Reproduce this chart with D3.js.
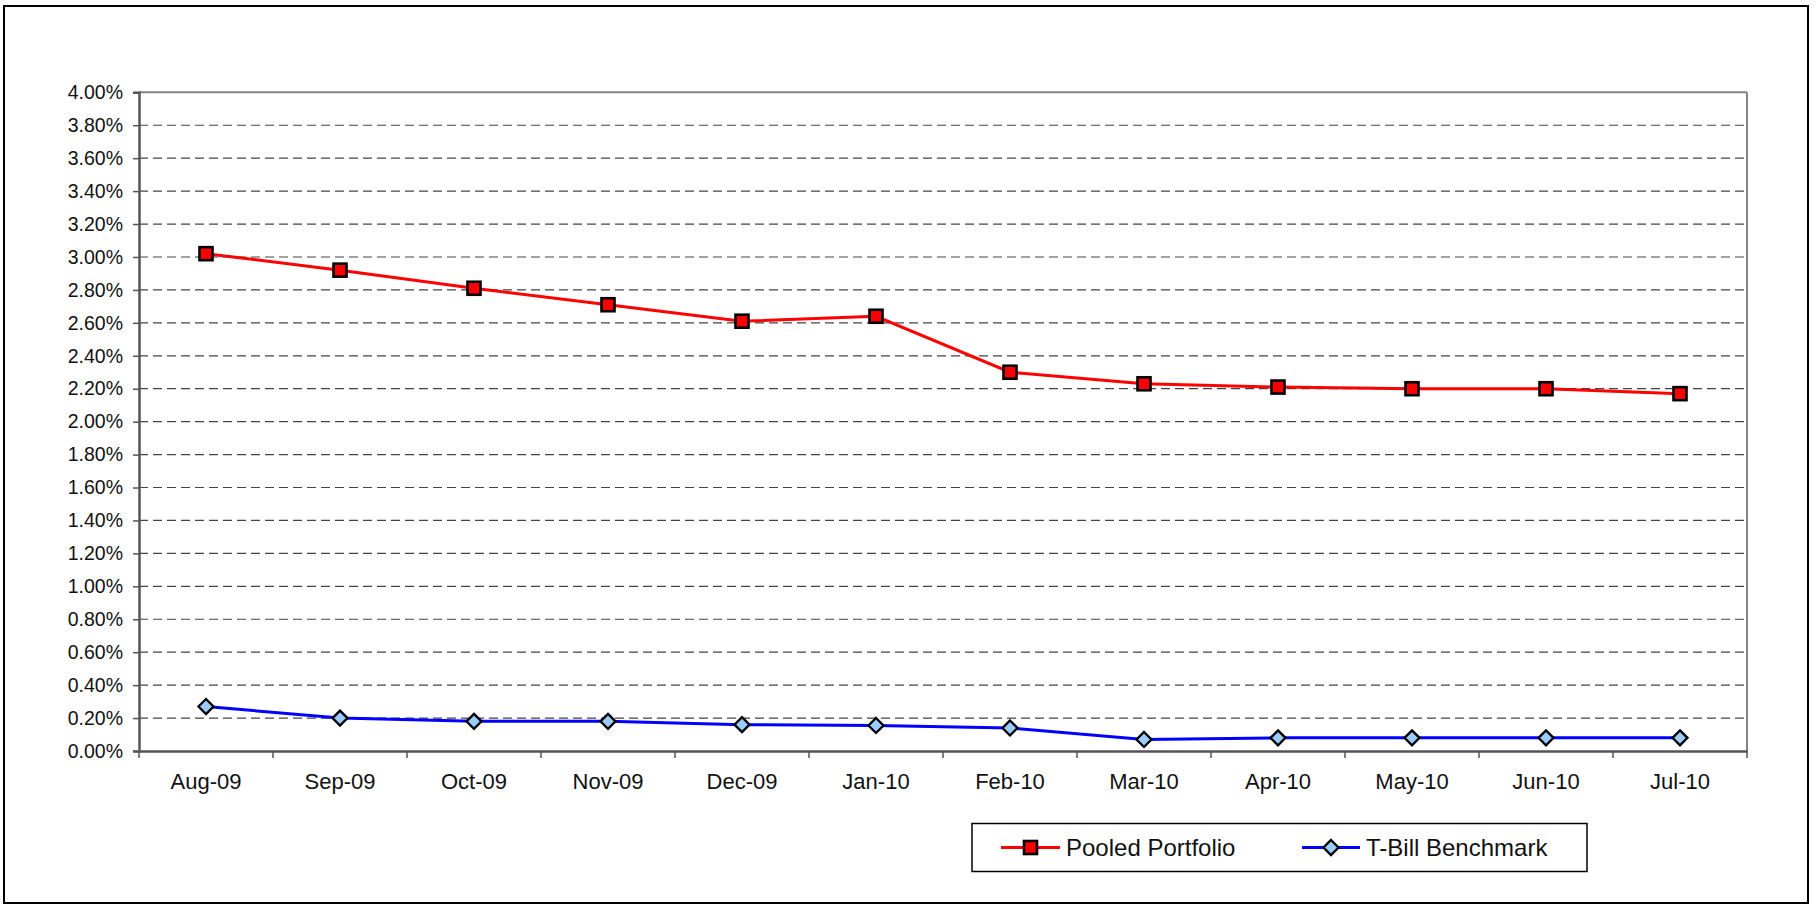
<!DOCTYPE html>
<html>
<head>
<meta charset="utf-8">
<script src="https://cdn.jsdelivr.net/npm/d3@7"></script>
<style>
  html, body { margin: 0; padding: 0; background: #fff; }
  svg { display: block; font-family: "Liberation Sans", Arial, sans-serif; }
</style>
</head>
<body>
<svg id="chart" width="1815" height="905"></svg>
<script>
const months = ["Aug-09","Sep-09","Oct-09","Nov-09","Dec-09","Jan-10","Feb-10","Mar-10","Apr-10","May-10","Jun-10","Jul-10"];
const pooledPortfolio = [3.02, 2.92, 2.81, 2.71, 2.61, 2.64, 2.30, 2.23, 2.21, 2.20, 2.20, 2.17];
const tBillBenchmark = [0.27, 0.20, 0.18, 0.18, 0.16, 0.155, 0.14, 0.07, 0.08, 0.08, 0.08, 0.08];
const yTicks = [0,0.2,0.4,0.6,0.8,1.0,1.2,1.4,1.6,1.8,2.0,2.2,2.4,2.6,2.8,3.0,3.2,3.4,3.6,3.8,4.0];
const seriesNames = ["Pooled Portfolio", "T-Bill Benchmark"];

const svg = d3.select("#chart");
const plot = {left: 139, right: 1747, top: 92.3, bottom: 751};

// outer frame
svg.append("rect").attr("x", 4).attr("y", 6).attr("width", 1804).attr("height", 897)
  .attr("fill", "#fff").attr("stroke", "#000").attr("stroke-width", 2);

const x = d3.scaleBand().domain(months).range([plot.left, plot.right]).padding(0);
const y = d3.scaleLinear().domain([0, 4]).range([plot.bottom, plot.top]);

// gridlines
svg.append("g").selectAll("line").data(yTicks.filter(d => d > 0 && d < 4)).join("line")
  .attr("x1", plot.left).attr("x2", plot.right)
  .attr("y1", d => y(d)).attr("y2", d => y(d))
  .attr("stroke", "#444").attr("stroke-width", 1.2).attr("stroke-dasharray", "9,5");

// plot top and right border
svg.append("line").attr("x1", plot.left).attr("x2", plot.right).attr("y1", plot.top).attr("y2", plot.top)
  .attr("stroke", "#858585").attr("stroke-width", 2);
svg.append("line").attr("x1", plot.right).attr("x2", plot.right).attr("y1", plot.top).attr("y2", plot.bottom)
  .attr("stroke", "#858585").attr("stroke-width", 2);

// y axis
const yAxis = d3.axisLeft(y).tickValues(yTicks).tickSize(6).tickPadding(10)
  .tickFormat(d => d3.format(".2f")(d) + "%");
const gy = svg.append("g").attr("transform", `translate(${plot.left},0)`).call(yAxis);
gy.select(".domain").attr("stroke", "#555").attr("stroke-width", 2.5);
gy.selectAll(".tick line").attr("stroke", "#555").attr("stroke-width", 1.5);
gy.selectAll(".tick text").attr("font-size", "19.5px").attr("fill", "#111")
  .attr("font-family", "Liberation Sans, Arial, sans-serif");

// x axis
const xAxis = d3.axisBottom(x).tickSize(0).tickPadding(22);
const gx = svg.append("g").attr("transform", `translate(0,${plot.bottom})`).call(xAxis);
gx.select(".domain").attr("stroke", "#555").attr("stroke-width", 2.5);
gx.selectAll(".tick text").attr("font-size", "22px").attr("fill", "#111")
  .attr("font-family", "Liberation Sans, Arial, sans-serif");
// category boundary ticks
const bounds = months.map(m => x(m)).concat([x(months[months.length - 1]) + x.bandwidth()]);
svg.append("g").selectAll("line").data(bounds).join("line")
  .attr("x1", d => d).attr("x2", d => d).attr("y1", plot.bottom).attr("y2", plot.bottom + 7)
  .attr("stroke", "#555").attr("stroke-width", 1.5);

const cx = m => x(m) + x.bandwidth() / 2;
const line = d3.line().x(d => cx(d.m)).y(d => y(d.v));

const pooledData = months.map((m, i) => ({m, v: pooledPortfolio[i]}));
const tbillData = months.map((m, i) => ({m, v: tBillBenchmark[i]}));

// lines
svg.append("path").datum(pooledData).attr("d", line).attr("fill", "none")
  .attr("stroke", "#FF0000").attr("stroke-width", 3);
svg.append("path").datum(tbillData).attr("d", line).attr("fill", "none")
  .attr("stroke", "#0000FF").attr("stroke-width", 3);

const sq = 13;
function square(g, px, py) {
  g.append("rect").attr("x", px - sq / 2).attr("y", py - sq / 2).attr("width", sq).attr("height", sq)
    .attr("fill", "#FF0000").attr("stroke", "#000").attr("stroke-width", 2.6);
}
const dm = 7.5;
function diamond(g, px, py) {
  g.append("path").attr("d", `M${px},${py - dm}L${px + dm},${py}L${px},${py + dm}L${px - dm},${py}Z`)
    .attr("fill", "#99CCFF").attr("stroke", "#000").attr("stroke-width", 2.3);
}
const mg = svg.append("g");
pooledData.forEach(d => square(mg, cx(d.m), y(d.v)));
tbillData.forEach(d => diamond(mg, cx(d.m), y(d.v)));

// legend
const lg = svg.append("g");
lg.append("rect").attr("x", 972).attr("y", 823.5).attr("width", 615).attr("height", 48)
  .attr("fill", "#fff").attr("stroke", "#000").attr("stroke-width", 1.5);
const ly = 847.5;
lg.append("line").attr("x1", 1001).attr("x2", 1060).attr("y1", ly).attr("y2", ly)
  .attr("stroke", "#FF0000").attr("stroke-width", 3);
square(lg, 1030.5, ly);
lg.append("text").attr("x", 1066).attr("y", ly).attr("dy", "0.36em").attr("font-size", "24px")
  .attr("fill", "#111").text(seriesNames[0]);
lg.append("line").attr("x1", 1302).attr("x2", 1360).attr("y1", ly).attr("y2", ly)
  .attr("stroke", "#0000FF").attr("stroke-width", 3);
diamond(lg, 1331, ly);
lg.append("text").attr("x", 1366).attr("y", ly).attr("dy", "0.36em").attr("font-size", "24px")
  .attr("fill", "#111").text(seriesNames[1]);
</script>
</body>
</html>
